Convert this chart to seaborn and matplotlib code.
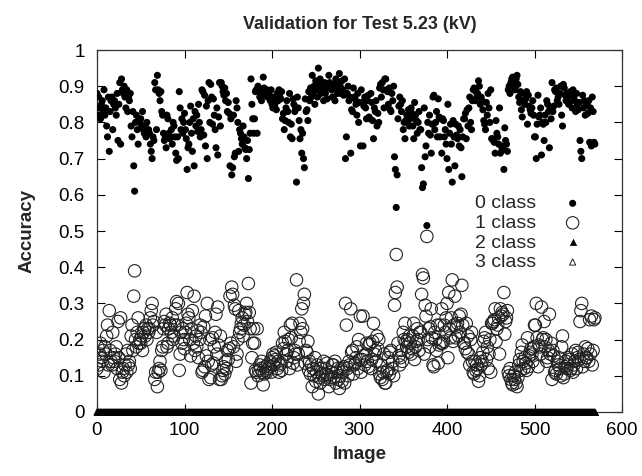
import matplotlib
matplotlib.use("Agg")
import matplotlib.pyplot as plt
import seaborn as sns
from matplotlib.ticker import FuncFormatter, MultipleLocator

# Per-image accuracy assigned to each class
class0 = [
    0.88, 0.82, 0.87, 0.84, 0.81, 0.85, 0.86, 0.83, 0.89, 0.82,
    0.84, 0.79, 0.76, 0.87, 0.72, 0.83, 0.86, 0.87, 0.78, 0.85,
    0.86, 0.84, 0.82, 0.88, 0.75, 0.85, 0.91, 0.74, 0.92, 0.89,
    0.88, 0.90, 0.87, 0.84, 0.89, 0.83, 0.87, 0.86, 0.88, 0.79,
    0.76, 0.83, 0.68, 0.61, 0.80, 0.82, 0.78, 0.74, 0.81, 0.80,
    0.81, 0.79, 0.83, 0.78, 0.77, 0.79, 0.76, 0.80, 0.77, 0.78,
    0.77, 0.74, 0.72, 0.70, 0.76, 0.75, 0.91, 0.89, 0.78, 0.93,
    0.89, 0.88, 0.86, 0.885, 0.83, 0.82, 0.77, 0.75, 0.76, 0.73,
    0.82, 0.81, 0.77, 0.755, 0.76, 0.78, 0.74, 0.80, 0.79, 0.76,
    0.715, 0.695, 0.76, 0.70, 0.885, 0.84, 0.78, 0.81, 0.77, 0.80,
    0.825, 0.78, 0.755, 0.67, 0.73, 0.74, 0.80, 0.845, 0.77, 0.72,
    0.81, 0.68, 0.83, 0.79, 0.82, 0.775, 0.85, 0.80, 0.76, 0.78,
    0.89, 0.885, 0.765, 0.875, 0.735, 0.845, 0.70, 0.86, 0.91, 0.80,
    0.905, 0.87, 0.795, 0.865, 0.82, 0.78, 0.73, 0.84, 0.71, 0.815,
    0.91, 0.79, 0.91, 0.90, 0.885, 0.875, 0.895, 0.86, 0.88, 0.83,
    0.855, 0.825, 0.68, 0.81, 0.655, 0.675, 0.82, 0.705, 0.715, 0.86,
    0.84, 0.80, 0.72, 0.78, 0.77, 0.755, 0.74, 0.79, 0.76, 0.73,
    0.725, 0.70, 0.75, 0.645, 0.725, 0.77, 0.92, 0.85, 0.81, 0.77,
    0.81, 0.885, 0.89, 0.77, 0.90, 0.885, 0.87, 0.88, 0.86, 0.89,
    0.925, 0.895, 0.875, 0.885, 0.89, 0.87, 0.88, 0.875, 0.86, 0.89,
    0.85, 0.84, 0.87, 0.845, 0.855, 0.835, 0.88, 0.86, 0.89, 0.87,
    0.865, 0.885, 0.81, 0.825, 0.78, 0.805, 0.84, 0.86, 0.83, 0.80,
    0.88, 0.76, 0.795, 0.755, 0.865, 0.85, 0.83, 0.84, 0.635, 0.87,
    0.84, 0.805, 0.755, 0.78, 0.715, 0.77, 0.70, 0.675, 0.865, 0.83,
    0.835, 0.805, 0.885, 0.86, 0.895, 0.87, 0.93, 0.88, 0.90, 0.85,
    0.915, 0.89, 0.87, 0.95, 0.905, 0.92, 0.88, 0.895, 0.90, 0.86,
    0.91, 0.88, 0.895, 0.865, 0.90, 0.93, 0.91, 0.905, 0.89, 0.87,
    0.87, 0.905, 0.86, 0.92, 0.89, 0.88, 0.91, 0.935, 0.90, 0.88,
    0.915, 0.89, 0.875, 0.92, 0.70, 0.76, 0.88, 0.90, 0.86, 0.87,
    0.715, 0.835, 0.83, 0.895, 0.87, 0.865, 0.85, 0.82, 0.88, 0.80,
    0.855, 0.735, 0.89, 0.855, 0.735, 0.845, 0.87, 0.84, 0.81, 0.86,
    0.875, 0.815, 0.81, 0.88, 0.855, 0.805, 0.755, 0.84, 0.83, 0.86,
    0.79, 0.825, 0.80, 0.895, 0.905, 0.87, 0.91, 0.89, 0.84, 0.92,
    0.92, 0.89, 0.885, 0.85, 0.895, 0.835, 0.83, 0.88, 0.86, 0.90,
    0.705, 0.67, 0.565, 0.655, 0.81, 0.845, 0.87, 0.85, 0.83, 0.86,
    0.78, 0.80, 0.755, 0.805, 0.82, 0.80, 0.835, 0.79, 0.81, 0.84,
    0.825, 0.79, 0.755, 0.855, 0.82, 0.805, 0.77, 0.80, 0.83, 0.78,
    0.78, 0.675, 0.62, 0.63, 0.84, 0.705, 0.735, 0.515, 0.80, 0.77,
    0.82, 0.765, 0.715, 0.795, 0.87, 0.875, 0.78, 0.80, 0.83, 0.76,
    0.865, 0.815, 0.76, 0.81, 0.715, 0.81, 0.805, 0.76, 0.78, 0.74,
    0.70, 0.85, 0.67, 0.77, 0.795, 0.74, 0.635, 0.805, 0.76, 0.68,
    0.795, 0.765, 0.755, 0.79, 0.735, 0.78, 0.73, 0.65, 0.76, 0.81,
    0.81, 0.825, 0.755, 0.835, 0.79, 0.84, 0.87, 0.80, 0.78, 0.86,
    0.89, 0.895, 0.86, 0.885, 0.87, 0.88, 0.915, 0.90, 0.85, 0.87,
    0.86, 0.835, 0.805, 0.795, 0.78, 0.855, 0.82, 0.88, 0.84, 0.80,
    0.89, 0.755, 0.755, 0.75, 0.745, 0.715, 0.805, 0.77, 0.76, 0.74,
    0.84, 0.715, 0.735, 0.725, 0.73, 0.67, 0.785, 0.75, 0.74, 0.72,
    0.89, 0.90, 0.88, 0.91, 0.92, 0.925, 0.90, 0.91, 0.89, 0.92,
    0.93, 0.905, 0.87, 0.855, 0.885, 0.835, 0.815, 0.86, 0.88, 0.85,
    0.865, 0.885, 0.795, 0.875, 0.845, 0.835, 0.825, 0.84, 0.86, 0.82,
    0.76, 0.76, 0.70, 0.795, 0.875, 0.815, 0.82, 0.84, 0.71, 0.80,
    0.795, 0.75, 0.82, 0.80, 0.86, 0.85, 0.83, 0.73, 0.84, 0.81,
    0.91, 0.83, 0.845, 0.89, 0.885, 0.895, 0.86, 0.87, 0.85, 0.88,
    0.90, 0.82, 0.79, 0.905, 0.895, 0.875, 0.86, 0.88, 0.87, 0.85,
    0.855, 0.885, 0.88, 0.84, 0.89, 0.87, 0.86, 0.83, 0.88, 0.85,
    0.835, 0.855, 0.75, 0.72, 0.70, 0.875, 0.84, 0.86, 0.82, 0.85,
    0.85, 0.825, 0.86, 0.745, 0.84, 0.735, 0.87, 0.83, 0.745, 0.74,
]

class1 = [
    0.12, 0.18, 0.13, 0.16, 0.19, 0.15, 0.14, 0.17, 0.11, 0.18,
    0.16, 0.21, 0.24, 0.13, 0.28, 0.17, 0.14, 0.13, 0.22, 0.15,
    0.14, 0.16, 0.18, 0.12, 0.25, 0.15, 0.09, 0.26, 0.08, 0.11,
    0.12, 0.10, 0.13, 0.16, 0.11, 0.17, 0.13, 0.14, 0.12, 0.21,
    0.24, 0.17, 0.32, 0.39, 0.20, 0.18, 0.22, 0.26, 0.19, 0.20,
    0.19, 0.21, 0.17, 0.22, 0.23, 0.21, 0.24, 0.20, 0.23, 0.22,
    0.23, 0.26, 0.28, 0.30, 0.24, 0.25, 0.09, 0.11, 0.22, 0.07,
    0.11, 0.12, 0.14, 0.115, 0.17, 0.18, 0.23, 0.25, 0.24, 0.27,
    0.18, 0.19, 0.23, 0.245, 0.24, 0.22, 0.26, 0.20, 0.21, 0.24,
    0.285, 0.305, 0.24, 0.30, 0.115, 0.16, 0.22, 0.19, 0.23, 0.20,
    0.175, 0.22, 0.245, 0.33, 0.27, 0.26, 0.20, 0.155, 0.23, 0.28,
    0.19, 0.32, 0.17, 0.21, 0.18, 0.225, 0.15, 0.20, 0.24, 0.22,
    0.11, 0.115, 0.235, 0.125, 0.265, 0.155, 0.30, 0.14, 0.09, 0.20,
    0.095, 0.13, 0.205, 0.135, 0.18, 0.22, 0.27, 0.16, 0.29, 0.185,
    0.09, 0.21, 0.09, 0.10, 0.115, 0.125, 0.105, 0.14, 0.12, 0.17,
    0.145, 0.175, 0.32, 0.19, 0.345, 0.325, 0.18, 0.295, 0.285, 0.14,
    0.16, 0.20, 0.28, 0.22, 0.23, 0.245, 0.26, 0.21, 0.24, 0.27,
    0.275, 0.30, 0.25, 0.355, 0.275, 0.23, 0.08, 0.15, 0.19, 0.23,
    0.19, 0.115, 0.11, 0.23, 0.10, 0.115, 0.13, 0.12, 0.14, 0.11,
    0.075, 0.105, 0.125, 0.115, 0.11, 0.13, 0.12, 0.125, 0.14, 0.11,
    0.15, 0.16, 0.13, 0.155, 0.145, 0.165, 0.12, 0.14, 0.11, 0.13,
    0.135, 0.115, 0.19, 0.175, 0.22, 0.195, 0.16, 0.14, 0.17, 0.20,
    0.12, 0.24, 0.205, 0.245, 0.135, 0.15, 0.17, 0.16, 0.365, 0.13,
    0.16, 0.195, 0.245, 0.22, 0.285, 0.23, 0.30, 0.325, 0.135, 0.17,
    0.165, 0.195, 0.115, 0.14, 0.105, 0.13, 0.07, 0.12, 0.10, 0.15,
    0.085, 0.11, 0.13, 0.05, 0.095, 0.08, 0.12, 0.105, 0.10, 0.14,
    0.09, 0.12, 0.105, 0.135, 0.10, 0.07, 0.09, 0.095, 0.11, 0.13,
    0.13, 0.095, 0.14, 0.08, 0.11, 0.12, 0.09, 0.065, 0.10, 0.12,
    0.085, 0.11, 0.125, 0.08, 0.30, 0.24, 0.12, 0.10, 0.14, 0.13,
    0.285, 0.165, 0.17, 0.105, 0.13, 0.135, 0.15, 0.18, 0.12, 0.20,
    0.145, 0.265, 0.11, 0.145, 0.265, 0.155, 0.13, 0.16, 0.19, 0.14,
    0.125, 0.185, 0.19, 0.12, 0.145, 0.195, 0.245, 0.16, 0.17, 0.14,
    0.21, 0.175, 0.20, 0.105, 0.095, 0.13, 0.09, 0.11, 0.16, 0.08,
    0.08, 0.11, 0.115, 0.15, 0.105, 0.165, 0.17, 0.12, 0.14, 0.10,
    0.295, 0.33, 0.435, 0.345, 0.19, 0.155, 0.13, 0.15, 0.17, 0.14,
    0.22, 0.20, 0.245, 0.195, 0.18, 0.20, 0.165, 0.21, 0.19, 0.16,
    0.175, 0.21, 0.245, 0.145, 0.18, 0.195, 0.23, 0.20, 0.17, 0.22,
    0.22, 0.325, 0.38, 0.37, 0.16, 0.295, 0.265, 0.485, 0.20, 0.23,
    0.18, 0.235, 0.285, 0.205, 0.13, 0.125, 0.22, 0.20, 0.17, 0.24,
    0.135, 0.185, 0.24, 0.19, 0.285, 0.19, 0.195, 0.24, 0.22, 0.26,
    0.30, 0.15, 0.33, 0.23, 0.205, 0.26, 0.365, 0.195, 0.24, 0.32,
    0.205, 0.235, 0.245, 0.21, 0.265, 0.22, 0.27, 0.35, 0.24, 0.19,
    0.19, 0.175, 0.245, 0.165, 0.21, 0.16, 0.13, 0.20, 0.22, 0.14,
    0.11, 0.105, 0.14, 0.115, 0.13, 0.12, 0.085, 0.10, 0.15, 0.13,
    0.14, 0.165, 0.195, 0.205, 0.22, 0.145, 0.18, 0.12, 0.16, 0.20,
    0.11, 0.245, 0.245, 0.25, 0.255, 0.285, 0.195, 0.23, 0.24, 0.26,
    0.16, 0.285, 0.265, 0.275, 0.27, 0.33, 0.215, 0.25, 0.26, 0.28,
    0.11, 0.10, 0.12, 0.09, 0.08, 0.075, 0.10, 0.09, 0.11, 0.08,
    0.07, 0.095, 0.13, 0.145, 0.115, 0.165, 0.185, 0.14, 0.12, 0.15,
    0.135, 0.115, 0.205, 0.125, 0.155, 0.165, 0.175, 0.16, 0.14, 0.18,
    0.24, 0.24, 0.30, 0.205, 0.125, 0.185, 0.18, 0.16, 0.29, 0.20,
    0.205, 0.25, 0.18, 0.20, 0.14, 0.15, 0.17, 0.27, 0.16, 0.19,
    0.09, 0.17, 0.155, 0.11, 0.115, 0.105, 0.14, 0.13, 0.15, 0.12,
    0.10, 0.18, 0.21, 0.095, 0.105, 0.125, 0.14, 0.12, 0.13, 0.15,
    0.145, 0.115, 0.12, 0.16, 0.11, 0.13, 0.14, 0.17, 0.12, 0.15,
    0.165, 0.145, 0.25, 0.28, 0.30, 0.125, 0.16, 0.14, 0.18, 0.15,
    0.15, 0.175, 0.14, 0.255, 0.16, 0.265, 0.13, 0.17, 0.255, 0.26,
]

n_images = len(class0)
image = list(range(n_images))
class2 = [0.0] * n_images
class3 = [0.0] * n_images

x_ticks = [0, 100, 200, 300, 400, 500, 600]
labels = ["0 class", "1 class", "2 class", "3 class"]

sns.set_style("ticks")
plt.rcParams["font.family"] = ["Liberation Sans", "DejaVu Sans"]

fig = plt.figure(figsize=(6.42, 4.76), dpi=100)
ax = fig.add_axes([97 / 642, 64 / 476, 525 / 642, 362 / 476])

sns.scatterplot(x=image, y=class0, ax=ax, marker="o", s=26, color="black",
                edgecolor="none", linewidth=0, label=labels[0], zorder=4)
sns.scatterplot(x=image, y=class1, ax=ax, marker="o", s=80, color="black",
                facecolors="none", edgecolor="#222222", linewidth=0.8,
                label=labels[1], zorder=3)
sns.scatterplot(x=image, y=class2, ax=ax, marker="^", s=20, color="black",
                edgecolor="black", linewidth=0.5, label=labels[2],
                zorder=5, clip_on=False)
sns.scatterplot(x=image, y=class3, ax=ax, marker="^", s=20, color="black",
                facecolors="none", edgecolor="black", linewidth=0.6,
                label=labels[3], zorder=6, clip_on=False)

ax.set_xlim(0, 600)
ax.set_ylim(0, 1)
ax.set_xticks(x_ticks)
ax.yaxis.set_major_locator(MultipleLocator(0.1))
ax.yaxis.set_major_formatter(FuncFormatter(lambda v, p: f"{v:g}"))
ax.tick_params(direction="in", length=6, width=0.8, top=True, right=True,
               labelsize=13.5, colors="black")
ax.tick_params(axis="x", pad=7)
ax.tick_params(axis="y", pad=9)
for side in ["top", "bottom", "left", "right"]:
    ax.spines[side].set_visible(True)
    ax.spines[side].set_color("#333333")
    ax.spines[side].set_linewidth(0.9)

ax.set_title("Validation for Test 5.23 (kV)", fontsize=13,
             fontweight="bold", pad=15)
ax.set_xlabel("Image", fontsize=13.5, fontweight="bold", labelpad=5)
ax.set_ylabel("Accuracy", fontsize=13.5, fontweight="bold", labelpad=16)

ax.legend(loc="upper right", bbox_to_anchor=(0.943, 0.60), frameon=False,
          markerfirst=False, fontsize=14, borderpad=0, handletextpad=0.9,
          handlelength=2.0, labelspacing=0.1, borderaxespad=0)

fig.savefig("out.png", dpi=100)
